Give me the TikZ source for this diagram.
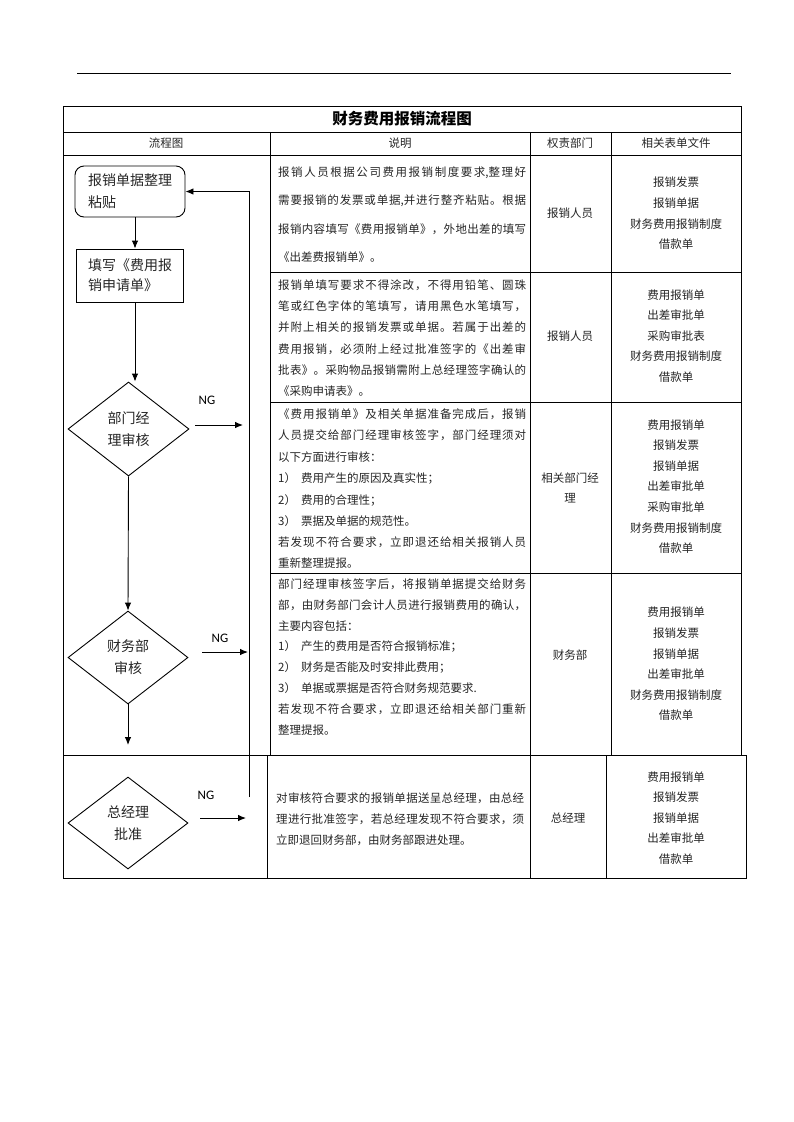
\documentclass[tikz,border=0pt]{standalone}
\usepackage{fontspec}
\usepackage{graphicx}
\setmainfont{Liberation Serif}
\newfontfamily\cjk{Noto Sans CJK SC}
\newfontfamily\ngfont{Carlito}
\usetikzlibrary{arrows.meta,shapes.geometric}
% inter-character glue for CJK so that full lines can be justified
\XeTeXinterchartokenstate=1
\newXeTeXintercharclass\myCJKclass
\newcount\mycnt
\mycnt="4E00
\loop
\XeTeXcharclass\mycnt=\myCJKclass
\ifnum\mycnt<"9FFF \advance\mycnt by 1 \repeat
\XeTeXcharclass`《=\myCJKclass
\XeTeXcharclass`》=\myCJKclass
\XeTeXcharclass`，=\myCJKclass
\XeTeXcharclass`。=\myCJKclass
\XeTeXcharclass`：=\myCJKclass
\XeTeXcharclass`；=\myCJKclass
\XeTeXcharclass`、=\myCJKclass
\XeTeXinterchartoks\myCJKclass\myCJKclass={\hskip0pt plus 1pt\relax}
\newcommand\JL[1]{\makebox[248pt][s]{#1}}
\begin{document}
\begin{tikzpicture}[x=1pt,y=-1pt,
  tl/.style={line width=0.8pt},
  txt/.style={inner sep=0pt, text=black!85, font=\cjk\fontsize{11.5}{20.6}\selectfont},
  desc/.style={txt, anchor=west},
  ctr/.style={txt, align=center},
  flowbox/.style={draw, line width=0.9pt, align=left, inner ysep=0pt, text=black!85,
                  font=\cjk\fontsize{14}{22}\selectfont},
  dia/.style={draw, diamond, line width=0.9pt, inner sep=0pt, align=center, text=black!85,
              font=\cjk\fontsize{14}{22}\selectfont},
  arr/.style={line width=0.9pt, -{Latex[length=8pt,width=6.5pt]}},
  nglab/.style={inner sep=0pt, font=\ngfont\fontsize{13}{13}\selectfont},
]
\useasboundingbox (0,0) rectangle (793,1122);
\fill[white] (0,0) rectangle (793,1122);

% ---------- rules and table ----------
\draw[tl] (77,73) -- (731,73);
\draw[tl] (63,106) rectangle (741,755);
\draw[tl] (63,132) -- (741,132);
\draw[tl] (63,155) -- (741,155);
\foreach \xx in {270,530,611} \draw[tl] (\xx,132) -- (\xx,755);
\foreach \yy in {272,402,573} \draw[tl] (270,\yy) -- (741,\yy);
\draw[tl] (63,755) rectangle (746,878);
\foreach \xx in {267,530,606} \draw[tl] (\xx,755) -- (\xx,878);

% ---------- title and header ----------
\node[inner sep=0pt, font=\cjk\bfseries\fontsize{15.5}{16}\selectfont] (title) at (402,118.5) {财务费用报销流程图};
\node[txt] (h1) at (166,143) {流程图};
\node[txt] (h2) at (400,143) {说明};
\node[txt] (h3) at (570,143) {权责部门};
\node[txt] (h4) at (676,143) {相关表单文件};

% ---------- row 1 ----------
\node[desc] (a1) at (278,173) {\JL{报销人员根据公司费用报销制度要求,整理好}};
\node[desc] (a2) at (278,201) {\JL{需要报销的发票或单据,并进行整齐粘贴。根据}};
\node[desc] (a3) at (278,229) {\JL{报销内容填写《费用报销单》，外地出差的填写}};
\node[desc] (a4) at (278,257) {《出差费报销单》。};
\node[ctr] (ad) at (570,213.5) {报销人员};
\node[ctr] (af) at (676,213.5) {报销发票\\报销单据\\财务费用报销制度\\借款单};

% ---------- row 2 ----------
\node[desc] (b1) at (278,285) {\JL{报销单填写要求不得涂改，不得用铅笔、圆珠}};
\node[desc] (b2) at (278,306) {\JL{笔或红色字体的笔填写，请用黑色水笔填写，}};
\node[desc] (b3) at (278,327.5) {\JL{并附上相关的报销发票或单据。若属于出差的}};
\node[desc] (b4) at (278,349) {\JL{费用报销，必须附上经过批准签字的《出差审}};
\node[desc] (b5) at (278,370) {\JL{批表》。采购物品报销需附上总经理签字确认的}};
\node[desc] (b6) at (278,391) {《采购申请表》。};
\node[ctr] (bd) at (570,336) {报销人员};
\node[ctr] (bf) at (676,336) {费用报销单\\出差审批单\\采购审批表\\财务费用报销制度\\借款单};

% ---------- row 3 ----------
\node[desc] (c1) at (278,414) {\JL{《费用报销单》及相关单据准备完成后，报销}};
\node[desc] (c2) at (278,435.5) {\JL{人员提交给部门经理审核签字，部门经理须对}};
\node[desc] (c3) at (278,457) {以下方面进行审核：};
\node[desc] (c4) at (278,478.5) {1）\hspace{5pt}费用产生的原因及真实性；};
\node[desc] (c5) at (278,500) {2）\hspace{5pt}费用的合理性；};
\node[desc] (c6) at (278,521) {3）\hspace{5pt}票据及单据的规范性。};
\node[desc] (c7) at (278,542) {\JL{若发现不符合要求，立即退还给相关报销人员}};
\node[desc] (c8) at (278,563) {重新整理提报。};
\node[ctr] (cd) at (570,488) {相关部门经\\理};
\node[ctr] (cf) at (676,486.5) {费用报销单\\报销发票\\报销单据\\出差审批单\\采购审批单\\财务费用报销制度\\借款单};

% ---------- row 4 ----------
\node[desc] (e1) at (278,584) {\JL{部门经理审核签字后，将报销单据提交给财务}};
\node[desc] (e2) at (278,605) {\JL{部，由财务部门会计人员进行报销费用的确认，}};
\node[desc] (e3) at (278,626) {主要内容包括：};
\node[desc] (e4) at (278,646.5) {1）\hspace{5pt}产生的费用是否符合报销标准；};
\node[desc] (e5) at (278,667) {2）\hspace{5pt}财务是否能及时安排此费用；};
\node[desc] (e6) at (278,688) {3）\hspace{5pt}单据或票据是否符合财务规范要求.};
\node[desc] (e7) at (278,709) {\JL{若发现不符合要求，立即退还给相关部门重新}};
\node[desc] (e8) at (278,730) {整理提报。};
\node[ctr] (ed) at (570,655) {财务部};
\node[ctr] (ef) at (676,664) {费用报销单\\报销发票\\报销单据\\出差审批单\\财务费用报销制度\\借款单};

% ---------- row 5 ----------
\node[desc] (g1) at (276,798) {\JL{对审核符合要求的报销单据送呈总经理，由总经}};
\node[desc] (g2) at (276,819) {\JL{理进行批准签字，若总经理发现不符合要求，须}};
\node[desc] (g3) at (276,840) {立即退回财务部，由财务部跟进处理。};
\node[ctr] (gd) at (568,818) {总经理};
\node[ctr] (gf) at (676,818) {费用报销单\\报销发票\\报销单据\\出差审批单\\借款单};

% ---------- flow chart ----------
\node[flowbox, rounded corners=9pt, minimum width=110pt, minimum height=51pt] (n1) at (130,191.5) {报销单据整理\\粘贴};
\node[flowbox, minimum width=107pt, minimum height=53pt, font=\cjk\fontsize{14}{20}\selectfont] (n2) at (130,275.5) {填写《费用报\\销申请单》};
\node[dia, minimum width=121pt, minimum height=94pt] (d1) at (128.5,429) {部门经\\理审核};
\node[dia, minimum width=120pt, minimum height=93pt] (d2) at (128,657.5) {财务部\\审核};
\node[dia, minimum width=120pt, minimum height=92pt] (d3) at (128,823) {总经理\\批准};

\draw[arr] ([xshift=5pt]n1.south) -- ([xshift=5pt]n2.north);
\draw[arr] ([xshift=5pt]n2.south) -- ([xshift=5pt]n2.south |- d1.north);
\draw[arr] (d1.south) -- (d2.north);
\coordinate (dend) at (128,745);
\draw[arr] (d2.south) -- (dend);

\coordinate (ng1a) at (195,425);
\coordinate (ng1b) at (243,425);
\draw[arr] (ng1a) -- (ng1b);
\node[nglab] (ng1) at (207,400) {NG};

\coordinate (ng2a) at (202,652);
\coordinate (ng2b) at (248,652);
\draw[arr] (ng2a) -- (ng2b);
\node[nglab] (ng2) at (220,638) {NG};

\coordinate (ng3a) at (200,818);
\coordinate (ng3b) at (246,818);
\draw[arr] (ng3a) -- (ng3b);
\node[nglab] (ng3) at (206,795) {NG};

\coordinate (fb) at (249,797);
\draw[arr] (fb) |- (n1.east);
\end{tikzpicture}
\end{document}
